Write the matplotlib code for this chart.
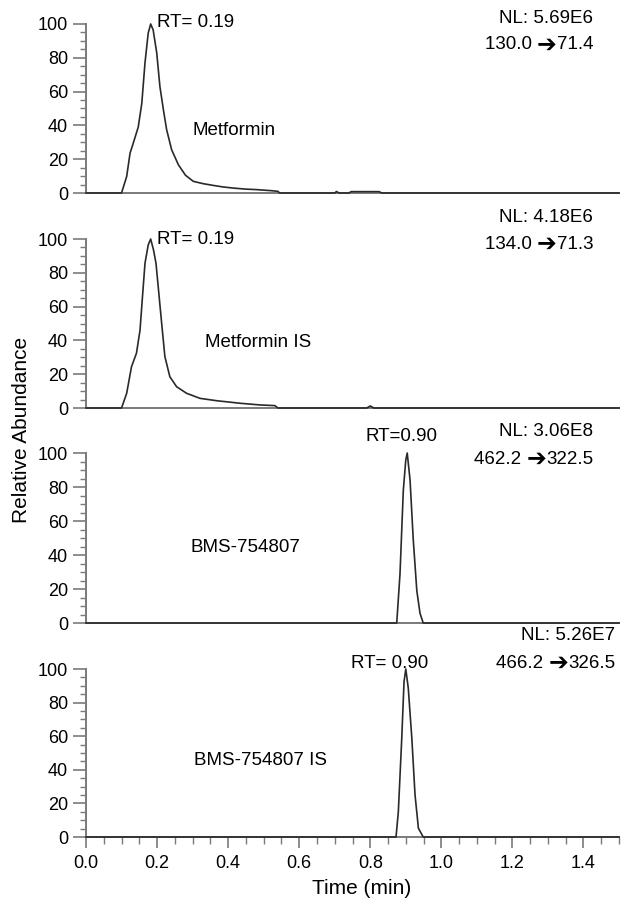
import matplotlib
matplotlib.use("Agg")
import matplotlib.pyplot as plt
from matplotlib.ticker import MultipleLocator
from matplotlib.offsetbox import TextArea, HPacker, AnnotationBbox

plt.rcParams['font.family'] = ['Liberation Sans', 'DejaVu Sans']

# ---- data (time in min, relative abundance %) ----
met_t = [0.00, 0.100, 0.1145, 0.124, 0.133, 0.147, 0.157, 0.166, 0.175, 0.182, 0.189,
         0.199, 0.208, 0.218, 0.227, 0.241, 0.260, 0.280, 0.302, 0.330, 0.358, 0.385,
         0.415, 0.450, 0.480, 0.520, 0.540, 0.545, 0.700, 0.705, 0.712, 0.740, 0.746,
         0.825, 0.832, 1.50]
met_v = [0, 0, 9.8, 23.6, 29.5, 39, 53, 77, 94.5, 100, 96.5,
         83, 63, 49, 37.4, 25.6, 16.7, 10.5, 6.9, 5.5, 4.5, 3.6,
         2.9, 2.3, 2.0, 1.4, 1.0, 0, 0, 0.9, 0, 0, 0.8,
         0.8, 0, 0]

metis_t = [0.00, 0.100, 0.1145, 0.128, 0.142, 0.152, 0.159, 0.166, 0.175, 0.182, 0.190,
           0.197, 0.204, 0.213, 0.222, 0.236, 0.255, 0.283, 0.321, 0.368, 0.434, 0.490,
           0.532, 0.540, 0.790, 0.800, 0.810, 1.50]
metis_v = [0, 0, 8.7, 24.4, 32.4, 46, 66, 85.6, 96.4, 100, 93.5,
           85.6, 70, 50, 30.4, 18.5, 12.6, 8.7, 5.7, 4.3, 2.8, 1.8,
           1.4, 0, 0, 1.2, 0, 0]

bms_t = [0.00, 0.8745, 0.8837, 0.893, 0.900, 0.904, 0.912, 0.921, 0.931, 0.940, 0.949, 1.50]
bms_v = [0, 0, 29, 78, 96, 100, 84, 49, 19, 5.7, 0, 0]

bmsis_t = [0.00, 0.8725, 0.879, 0.8886, 0.895, 0.900, 0.907, 0.917, 0.926, 0.9355, 0.949, 1.50]
bmsis_v = [0, 0, 15, 58.7, 92.4, 100, 88.5, 58.7, 25, 5.2, 0, 0]

compounds = ["Metformin", "Metformin IS", "BMS-754807", "BMS-754807 IS"]
rt_labels = ["RT= 0.19", "RT= 0.19", "RT=0.90", "RT= 0.90"]
nl_labels = ["NL: 5.69E6", "NL: 4.18E6", "NL: 3.06E8", "NL: 5.26E7"]
transitions = [("130.0", "71.4"), ("134.0", "71.3"), ("462.2", "322.5"), ("466.2", "326.5")]
y_ticks = [0, 20, 40, 60, 80, 100]
x_ticks = [0.0, 0.2, 0.4, 0.6, 0.8, 1.0, 1.2, 1.4]
x_tick_labels = ["0.0", "0.2", "0.4", "0.6", "0.8", "1.0", "1.2", "1.4"]

traces = [(met_t, met_v), (metis_t, metis_v), (bms_t, bms_v), (bmsis_t, bmsis_v)]

# ---- layout ----
W, H = 622, 906
fig = plt.figure(figsize=(W / 100, H / 100), dpi=100)
left_px, right_px = 86, 619
panels_px = [(24, 193), (239, 408), (453, 623), (669, 837)]  # (top=100, bottom=0)

# annotation positions (data coords)
rt_pos = [(0.200, 101, 'left'), (0.200, 99.5, 'left'), (0.889, 109.5, 'center'), (0.854, 103.5, 'center')]
nl_pos = [(1.427, 103.5), (1.427, 113), (1.427, 112.4), (1.490, 120)]
tr_pos = [(1.427, 87.6), (1.427, 97), (1.427, 96.4), (1.489, 103.5)]
name_pos = [(0.300, 36.7), (0.335, 39), (0.293, 44.4), (0.304, 45.6)]

spine_col = '#7a7a7a'
trace_col = '#2a2a2a'
fs_tick = 13
fs_ann = 13.5

axes = []
for i, (top, bot) in enumerate(panels_px):
    ax = fig.add_axes([left_px / W, 1 - bot / H, (right_px - left_px) / W, (bot - top) / H])
    axes.append(ax)
    t, v = traces[i]
    ax.plot(t, v, color=trace_col, lw=1.2, clip_on=False, zorder=3)
    ax.set_xlim(0, 1.5)
    ax.set_ylim(0, 100)
    for s in ('top', 'right'):
        ax.spines[s].set_visible(False)
    for s in ('left', 'bottom'):
        ax.spines[s].set_color(spine_col)
        ax.spines[s].set_linewidth(1.4)
    ax.set_yticks(y_ticks)
    ax.set_yticklabels([str(y) for y in y_ticks])
    ax.yaxis.set_minor_locator(MultipleLocator(5))
    ax.tick_params(axis='y', which='major', length=9.5, width=1.2, color=spine_col,
                   labelsize=fs_tick, pad=3.5, direction='out')
    ax.tick_params(axis='y', which='minor', length=4.5, width=1.0, color=spine_col, direction='out')
    if i < 3:
        ax.set_xticks([])
        ax.xaxis.set_minor_locator(plt.NullLocator())
    else:
        ax.set_xticks(x_ticks)
        ax.set_xticklabels(x_tick_labels)
        ax.xaxis.set_minor_locator(MultipleLocator(0.05))
        ax.tick_params(axis='x', which='major', length=8, width=1.2, color=spine_col,
                       labelsize=fs_tick, pad=5, direction='out')
        ax.tick_params(axis='x', which='minor', length=5, width=1.0, color=spine_col, direction='out')
    ax.patch.set_alpha(0)

    x, y, ha = rt_pos[i]
    ax.text(x, y, rt_labels[i], ha=ha, va='center', fontsize=fs_ann, clip_on=False)
    x, y = nl_pos[i]
    ax.text(x, y, nl_labels[i], ha='right', va='center', fontsize=fs_ann, clip_on=False)
    x, y = tr_pos[i]
    a, b = transitions[i]
    pack = HPacker(children=[
        TextArea(a + " ", textprops=dict(fontsize=fs_ann)),
        TextArea("\u2794", textprops=dict(fontsize=17, fontweight='bold',
                                          family=['DejaVu Sans'])),
        TextArea(b, textprops=dict(fontsize=fs_ann)),
    ], pad=0, sep=0, align='center')
    ab = AnnotationBbox(pack, (x, y), xycoords='data', box_alignment=(1, 0.5),
                        frameon=False, pad=0, annotation_clip=False)
    ax.add_artist(ab)
    x, y = name_pos[i]
    ax.text(x, y, compounds[i], ha='left', va='center', fontsize=fs_ann, clip_on=False)

fig.text(22 / W, 1 - 430 / H, "Relative Abundance", rotation=90, ha='center', va='center', fontsize=15)
fig.text(362 / W, 1 - 889 / H, "Time (min)", ha='center', va='center', fontsize=15)

fig.savefig("out.png", dpi=100)
